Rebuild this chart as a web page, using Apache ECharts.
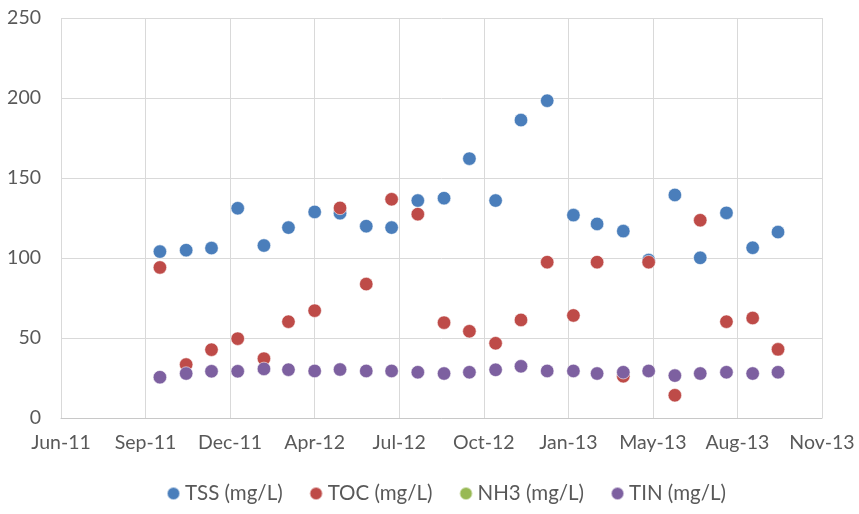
<!DOCTYPE html>
<html>
<head>
<meta charset="utf-8">
<script src="https://cdn.jsdelivr.net/npm/echarts@6/dist/echarts.min.js"></script>
<style>
  html, body { margin: 0; padding: 0; background: #fff; }
  #chart { width: 859px; height: 514px; }
</style>
</head>
<body>
<div id="chart"></div>
<script>
// Monthly sampling dates
const sampleDates = [
  '2011-10-01', '2011-11-01', '2011-12-01', '2012-01-01', '2012-02-01',
  '2012-03-01', '2012-04-01', '2012-05-01', '2012-06-01', '2012-07-01',
  '2012-08-01', '2012-09-01', '2012-10-01', '2012-11-01', '2012-12-01',
  '2013-01-01', '2013-02-01', '2013-03-01', '2013-04-01', '2013-05-01',
  '2013-06-01', '2013-07-01', '2013-08-01', '2013-09-01', '2013-10-01'
];

// Concentrations, mg/L
const tss = [104.0, 104.9, 106.2, 131.1, 107.8, 119.0, 128.8, 128.0, 119.9, 119.0,
             135.9, 137.4, 162.1, 135.9, 186.2, 198.3, 126.8, 121.3, 116.8, 98.7,
             139.4, 100.1, 128.2, 106.4, 116.2];
const toc = [94.1, 33.4, 42.7, 49.6, 37.1, 60.2, 67.1, 131.3, 83.7, 136.7,
             127.4, 59.6, 54.2, 46.7, 61.3, 97.4, 64.1, 97.4, 26.1, 97.4,
             14.2, 123.6, 60.2, 62.5, 42.9];
const nh3 = [null, null, null, null, null, null, null, null, null, null,
             null, null, null, null, null, null, null, null, null, null,
             null, null, null, null, null];
const tin = [25.5, 27.8, 29.2, 29.2, 30.7, 30.2, 29.4, 30.3, 29.4, 29.4,
             28.6, 27.8, 28.6, 30.1, 32.3, 29.4, 29.4, 27.8, 28.6, 29.4,
             26.5, 27.8, 28.6, 27.8, 28.6];

const seriesNames = ['TSS (mg/L)', 'TOC (mg/L)', 'NH3 (mg/L)', 'TIN (mg/L)'];

// Date axis in spreadsheet serial days, ticks every 100 days
const axisStart = 40700;
const axisEnd = 41600;
const tickStep = 100;
const tickLabels = ['Jun-11', 'Sep-11', 'Dec-11', 'Apr-12', 'Jul-12',
                    'Oct-12', 'Jan-13', 'May-13', 'Aug-13', 'Nov-13'];

function toSerial(iso) {
  const p = iso.split('-').map(Number);
  return Date.UTC(p[0], p[1] - 1, p[2]) / 86400000 + 25569;
}

function pairs(values) {
  return sampleDates.map((d, i) => [toSerial(d), values[i]]);
}

const colors = ['#4A7EBB', '#BE4B48', '#98B954', '#7D60A0'];
const fontFamily = 'Lato, "Open Sans", sans-serif';
const textColor = '#595959';

const chart = echarts.init(document.getElementById('chart'));
chart.setOption({
  animation: false,
  color: colors,
  grid: { left: 61, right: 37, top: 18, bottom: 96, containLabel: false },
  legend: {
    data: seriesNames,
    bottom: 5,
    left: 161,
    icon: 'circle',
    itemWidth: 13,
    itemHeight: 13,
    itemGap: 26,
    textStyle: { fontFamily: fontFamily, fontSize: 20.5, color: textColor }
  },
  xAxis: {
    type: 'value',
    min: axisStart,
    max: axisEnd,
    interval: tickStep,
    axisLine: { show: true, lineStyle: { color: '#C8C8C8', width: 1 } },
    axisTick: { show: false },
    splitLine: { show: true, lineStyle: { color: '#D9D9D9', width: 1 } },
    axisLabel: {
      margin: 15,
      fontFamily: fontFamily,
      fontSize: 19.5,
      color: textColor,
      formatter: v => tickLabels[Math.round((v - axisStart) / tickStep)] || ''
    }
  },
  yAxis: {
    type: 'value',
    min: 0,
    max: 250,
    interval: 50,
    axisLine: { show: false },
    axisTick: { show: false },
    splitLine: { show: true, lineStyle: { color: '#D9D9D9', width: 1 } },
    axisLabel: { margin: 20, fontFamily: fontFamily, fontSize: 19.5, color: textColor }
  },
  series: [tss, toc, nh3, tin].map((vals, i) => ({
    name: seriesNames[i],
    type: 'scatter',
    symbol: 'circle',
    symbolSize: 13.5,
    itemStyle: { color: colors[i], opacity: 1, borderColor: 'rgba(255,255,255,0.55)', borderWidth: 1 },
    data: pairs(vals)
  }))
});
</script>
</body>
</html>
